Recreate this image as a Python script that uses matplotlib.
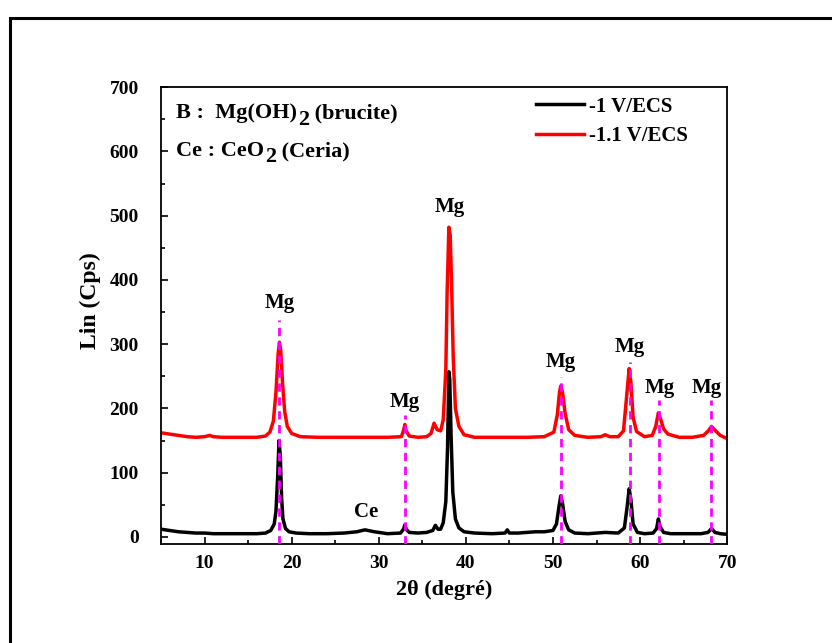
import matplotlib
matplotlib.use("Agg")
import matplotlib.pyplot as plt
from matplotlib.patches import Rectangle
from matplotlib.ticker import MultipleLocator

plt.rcParams['font.family'] = ['Liberation Serif', 'DejaVu Serif']
plt.rcParams['font.weight'] = 'bold'

# -1 V/ECS (black)
x_black = [5.0, 5.5, 6, 7, 8, 9, 10, 11, 12, 13, 14, 15, 16, 17, 17.6, 18.0, 18.2, 18.4,
           18.55, 18.7, 18.85, 19.0, 19.3, 19.7, 20.5, 22, 24, 26, 27.5, 28.4, 29.5, 31,
           32.5, 32.85, 33.0, 33.15, 33.5, 34.5, 35.5, 36.2, 36.5, 36.8, 37.1, 37.4, 37.7,
           37.9, 38.05, 38.15, 38.3, 38.5, 38.8, 39.2, 39.8, 41, 43, 44.5, 44.75, 45.0, 46,
           47, 48, 49, 50, 50.4, 50.7, 50.9, 51.1, 51.4, 51.8, 52.5, 54, 56, 57.5, 58.2,
           58.5, 58.75, 58.95, 59.2, 59.7, 60.5, 61.5, 61.9, 62.1, 62.3, 62.7, 63.5, 65, 67,
           67.8, 68.2, 68.6, 69.2, 70]
y_black = [12, 11, 10, 8, 7, 6, 6, 5, 5, 5, 5, 5, 5, 6, 10, 20, 40, 95,
           150, 125, 60, 28, 13, 8, 6, 5, 5, 6, 8, 11, 8, 5,
           6, 12, 19, 12, 7, 6, 7, 10, 18, 12, 12, 22, 55,
           140, 257, 245, 160, 70, 28, 14, 8, 6, 5, 6, 11, 6, 6,
           7, 8, 8, 10, 20, 48, 64, 52, 24, 11, 6, 5, 7, 6, 14,
           45, 75, 58, 20, 7, 5, 6, 13, 28, 16, 7, 5, 5, 5,
           7, 13, 7, 5, 4]

# -1.1 V/ECS (red)
x_red = [5.0, 5.5, 6, 7, 8, 9, 10, 10.6, 11, 12, 13, 14, 15, 16, 17, 17.5, 17.9, 18.2,
         18.45, 18.6, 18.75, 18.95, 19.2, 19.5, 20, 21, 23, 25, 27, 29, 31, 32.6, 32.85,
         33.0, 33.15, 33.5, 34.5, 35.5, 36.0, 36.35, 36.7, 37.1, 37.4, 37.7, 37.85, 38.05,
         38.2, 38.35, 38.55, 38.8, 39.2, 39.8, 41, 43, 45, 47, 49, 50.1, 50.5, 50.75, 50.9,
         51.1, 51.4, 51.8, 52.5, 54, 55.5, 56, 56.5, 57.5, 58.1, 58.4, 58.75, 58.95, 59.2,
         59.6, 60.5, 61.4, 61.8, 62.1, 62.35, 62.7, 63.2, 64.5, 66, 67.3, 67.9, 68.2, 68.6,
         69.2, 70]
y_red = [162, 161, 160, 158, 156, 155, 156, 158, 156, 155, 155, 155, 155, 155, 157, 163, 180, 225,
         285, 303, 290, 240, 195, 172, 161, 156, 155, 155, 155, 155, 155, 156, 166,
         175, 165, 157, 155, 156, 161, 177, 167, 165, 182, 260, 380, 482,
         470, 400, 280, 200, 172, 159, 155, 155, 155, 155, 156, 163, 190, 225, 235,
         225, 192, 167, 158, 155, 156, 159, 156, 156, 165, 210, 262, 240, 186,
         164, 156, 158, 172, 193, 184, 168, 160, 155, 155, 158, 166, 172, 166,
         158, 153]

# reference lines and peak labels
mg_pos = [18.6, 33.0, 50.95, 58.8, 62.15, 68.2]
mg_top = [337, 190, 249, 272, 213, 213]
lbl_x = [18.6, 33.0, 38.15, 50.9, 58.85, 62.3, 67.7]
lbl_y = [364, 210, 513, 272, 296, 232, 232]

fig = plt.figure(figsize=(8.32, 6.43), dpi=100)
ax = fig.add_axes([0.1935, 0.154, 0.6805, 0.7105])

ax.plot(x_black, y_black, color='black', lw=2.5, label='-1 V/ECS', zorder=2)
ax.plot(x_red, y_red, color='#ff0000', lw=2.5, label='-1.1 V/ECS', zorder=2)

for xp, yt in zip(mg_pos, mg_top):
    ax.plot([xp, xp], [-11, yt], color='#ff00ff', lw=2, ls=(0, (3, 2)), zorder=3)

for xl, yl in zip(lbl_x, lbl_y):
    ax.text(xl, yl, 'Mg', ha='center', va='center', fontsize=15, fontweight='bold')
ax.text(28.5, 39, 'Ce', ha='center', va='center', fontsize=15, fontweight='bold')

# formula lines, the subscript drawn as its own text
def formula(y, head, tail):
    t1 = ax.text(0.026, y, head, transform=ax.transAxes, fontsize=16,
                 fontweight='bold', va='baseline')
    t2 = ax.annotate('2', xy=(1, 0), xycoords=t1, xytext=(1, -1),
                     textcoords='offset points', fontsize=16, fontweight='bold',
                     va='baseline')
    ax.annotate(tail, xy=(1, 0), xycoords=t2, xytext=(0, 8),
                textcoords='offset points', fontsize=16, fontweight='bold',
                va='baseline')

formula(0.932, 'B :  Mg(OH)', ' (brucite)')
formula(0.849, 'Ce : CeO', ' (Ceria)')

leg = ax.legend(loc='upper left', bbox_to_anchor=(0.63, 1.02), frameon=False, fontsize=15,
                handlelength=2.3, handletextpad=0.2, labelspacing=0.45)

ax.set_xlim(5, 70)
ax.set_ylim(-11, 700)
ax.xaxis.set_major_locator(MultipleLocator(10))
ax.xaxis.set_minor_locator(MultipleLocator(5))
ax.yaxis.set_major_locator(MultipleLocator(100))
ax.yaxis.set_minor_locator(MultipleLocator(50))
ax.tick_params(which='both', direction='in', top=False, right=False, width=1.2)
ax.tick_params(which='major', length=5, labelsize=14)
ax.tick_params(axis='x', which='major', pad=8)
ax.tick_params(axis='y', which='major', pad=16)
ax.tick_params(which='minor', length=3)
for s in ax.spines.values():
    s.set_linewidth(1.3)

ax.set_xlabel('2θ (degré)', fontsize=16, fontweight='bold', labelpad=6)
ax.set_ylabel('Lin (Cps)', fontsize=17, fontweight='bold')
ax.yaxis.set_label_coords(-0.106, 0.532)

fig.patches.append(Rectangle((10 / 832, -0.1), 1.2, 1 - 18 / 643 + 0.1,
                             transform=fig.transFigure, fill=False, lw=2.2,
                             edgecolor='black'))

fig.savefig('out.png', dpi=100)
